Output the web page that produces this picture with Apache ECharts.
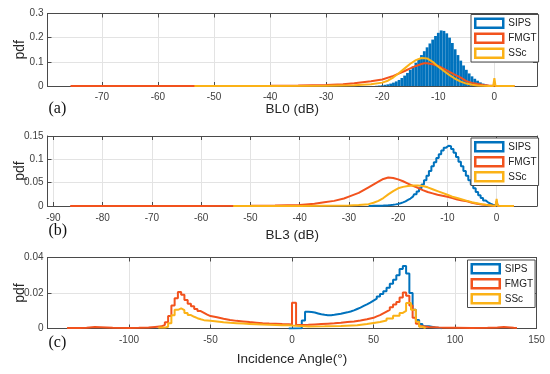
<!DOCTYPE html>
<html><head><meta charset="utf-8">
<script src="https://cdn.jsdelivr.net/npm/echarts@6/dist/echarts.min.js"></script>
<style>html,body{margin:0;padding:0;background:#fff}#c{width:550px;height:374px}</style>
</head><body><div id="c"></div>
<script>
// ---------- names / ticks ----------
const seriesNames = ['SIPS', 'FMGT', 'SSc'];
const panelLabels = ['(a)', '(b)', '(c)'];
const xNames = ['BL0 (dB)', 'BL3 (dB)', 'Incidence Angle(°)'];
const ticksA = [-70, -60, -50, -40, -30, -20, -10, 0];
const ticksB = [-90, -80, -70, -60, -50, -40, -30, -20, -10, 0];
const ticksC = [-100, -50, 0, 50, 100, 150];

// ---------- panel (a): BL0 ----------
const sipsAX = [-21, -20.5, -20, -19.5, -19, -18.5, -18, -17.5, -17, -16.5, -16, -15.5, -15, -14.5, -14, -13.5, -13, -12.5, -12, -11.5, -11, -10.5, -10, -9.5, -9, -8.5, -8, -7.5, -7, -6.5, -6, -5.5, -5, -4.5, -4, -3.5, -3, -2.5, -2, -1.5, -1, -0.5, 0];
const sipsAY = [0.001, 0.002, 0.003, 0.005, 0.007, 0.010, 0.014, 0.019, 0.025, 0.033, 0.043, 0.054, 0.067, 0.081, 0.096, 0.112, 0.128, 0.144, 0.160, 0.176, 0.192, 0.207, 0.220, 0.230, 0.228, 0.218, 0.200, 0.178, 0.152, 0.128, 0.105, 0.085, 0.067, 0.052, 0.040, 0.030, 0.022, 0.015, 0.010, 0.006, 0.003, 0.002, 0.012];
const fmgtAX = [-75.6, -53, -40, -35, -30, -27, -25, -22, -20, -18, -16, -15, -14, -13, -12.5, -12, -11, -10, -9, -8, -7, -6, -5, -4, -3, -2, -1, 0, 1, 2, 3.6];
const fmgtAY = [0, 0.0003, 0.001, 0.002, 0.004, 0.007, 0.011, 0.020, 0.027, 0.042, 0.062, 0.073, 0.083, 0.091, 0.094, 0.094, 0.090, 0.083, 0.071, 0.058, 0.046, 0.035, 0.020, 0.013, 0.008, 0.004, 0.002, 0.001, 0.0005, 0.0002, 0];
const sscAX = [-53.5, -40, -30, -25, -22, -20, -19, -18, -17, -16, -15, -14, -13, -12, -11, -10, -9, -8, -7, -6, -5, -4, -3, -2, -1, -0.2, 0, 0.2, 1, 2, 3.6];
const sscAY = [0, 0.0003, 0.001, 0.003, 0.007, 0.014, 0.022, 0.036, 0.054, 0.073, 0.092, 0.107, 0.116, 0.114, 0.100, 0.080, 0.062, 0.045, 0.030, 0.018, 0.010, 0.005, 0.002, 0.001, 0.0005, 0.0005, 0.032, 0.0005, 0.0002, 0.0001, 0];

// ---------- panel (b): BL3 ----------
const sipsBX = [-26, -25.5, -25, -24.5, -24, -23.5, -23, -22.5, -22, -21.5, -21, -20.5, -20, -19.5, -19, -18.5, -18, -17.5, -17, -16.5, -16, -15.5, -15, -14.5, -14, -13.5, -13, -12.5, -12, -11.5, -11, -10.5, -10, -9.5, -9, -8.5, -8, -7.5, -7, -6.5, -6, -5.5, -5, -4.5, -4, -3.5, -3, -2.5, -2, -1.5, -1, -0.5, 0, 0.5];
const sipsBY = [0, 0.0002, 0.0003, 0.0004, 0.0005, 0.0007, 0.0009, 0.0012, 0.0015, 0.002, 0.0027, 0.0035, 0.0045, 0.006, 0.0078, 0.010, 0.013, 0.016, 0.020, 0.025, 0.031, 0.038, 0.046, 0.055, 0.065, 0.075, 0.085, 0.094, 0.103, 0.111, 0.119, 0.125, 0.129, 0.128, 0.122, 0.114, 0.105, 0.095, 0.085, 0.075, 0.065, 0.055, 0.046, 0.038, 0.030, 0.023, 0.017, 0.012, 0.008, 0.005, 0.003, 0.0015, 0.001, 0];
const fmgtBX = [-86.6, -60, -50, -45, -40, -37, -35, -33, -31, -30, -28, -26, -24, -23, -22, -21, -20, -19, -18, -17, -16, -15, -14, -13, -12, -11, -10, -9, -8, -7, -6, -5, -4, -3, -2, -1, -0.2, 0, 0.2, 1, 2, 3.5];
const fmgtBY = [0, 0.0002, 0.0005, 0.001, 0.002, 0.005, 0.008, 0.011, 0.016, 0.020, 0.028, 0.040, 0.052, 0.058, 0.061, 0.060, 0.057, 0.053, 0.048, 0.043, 0.039, 0.034, 0.030, 0.027, 0.024, 0.022, 0.020, 0.017, 0.014, 0.012, 0.010, 0.007, 0.005, 0.003, 0.002, 0.001, 0.0008, 0.010, 0.0005, 0.0002, 0.0001, 0];
const sscBX = [-53.5, -40, -35, -30, -28, -26, -25, -24, -23, -22, -21, -20, -19, -18, -17, -16, -15, -14, -13, -12, -11, -10, -9, -8, -7, -6, -5, -4, -3, -2, -1, -0.2, 0, 0.2, 1, 3.5];
const sscBY = [0, 0.0002, 0.0005, 0.001, 0.002, 0.004, 0.007, 0.011, 0.017, 0.025, 0.032, 0.038, 0.041, 0.043, 0.044, 0.044, 0.043, 0.040, 0.036, 0.032, 0.028, 0.024, 0.020, 0.017, 0.014, 0.011, 0.008, 0.006, 0.004, 0.002, 0.001, 0.0008, 0.015, 0.0005, 0.0002, 0];

// ---------- panel (c): incidence angle (bin start, value) ----------
const sipsCX = [-2, 0, 6, 8, 10, 12, 14, 16, 18, 20, 22, 24, 26, 28, 30, 32, 34, 36, 38, 40, 42, 44, 46, 48, 50, 52, 54, 56, 58, 60, 62, 64, 66, 68, 70, 72, 74, 76, 78, 80, 84, 88, 92];
const sipsCY = [0, 0.0002, 0.0045, 0.0094, 0.0093, 0.009, 0.0085, 0.008, 0.0077, 0.0075, 0.0075, 0.0077, 0.008, 0.0083, 0.0087, 0.0091, 0.0096, 0.0102, 0.011, 0.0118, 0.0127, 0.0136, 0.0146, 0.0157, 0.0168, 0.018, 0.0195, 0.021, 0.023, 0.0252, 0.0275, 0.030, 0.0335, 0.0352, 0.031, 0.020, 0.0105, 0.0048, 0.0025, 0.0013, 0.0006, 0.0002, 0];
const fmgtCX = [-138, -130, -126, -121, -110, -100, -94, -88, -84, -80, -78, -76, -74, -72, -70, -68, -66, -64, -62, -60, -58, -56, -54, -52, -50, -46, -42, -38, -34, -30, -26, -22, -18, -14, -10, -6, -2, 0, 2.5, 6, 10, 14, 18, 22, 26, 30, 34, 38, 42, 46, 50, 52, 54, 56, 58, 60, 62, 64, 66, 68, 70, 72, 74, 76, 78, 80, 84, 90, 100, 110, 120, 126, 130, 136, 138];
const fmgtCY = [0.0003, 0.0004, 0.0009, 0.0004, 0.0003, 0.0004, 0.0006, 0.0009, 0.0012, 0.002, 0.0035, 0.007, 0.013, 0.017, 0.0205, 0.019, 0.016, 0.014, 0.0125, 0.011, 0.0098, 0.0088, 0.0078, 0.007, 0.0063, 0.0055, 0.0048, 0.0043, 0.004, 0.0036, 0.0033, 0.003, 0.0028, 0.0027, 0.0025, 0.0024, 0.0023, 0.0145, 0.002, 0.0021, 0.0023, 0.0025, 0.0027, 0.0029, 0.0032, 0.0036, 0.004, 0.0045, 0.0052, 0.006, 0.0068, 0.0075, 0.0085, 0.0095, 0.0105, 0.012, 0.0135, 0.015, 0.0175, 0.0203, 0.0185, 0.013, 0.006, 0.0027, 0.0013, 0.0008, 0.0005, 0.0004, 0.0003, 0.0004, 0.0005, 0.0008, 0.0004, 0.0003, 0];
const sscCX = [-82, -78, -76, -74, -72, -70, -68, -66, -64, -62, -60, -58, -56, -54, -50, -46, -42, -38, -34, -30, -26, -22, -18, -14, -10, -6, -2, 0, 2.5, 10, 20, 30, 40, 46, 50, 54, 58, 62, 66, 68, 70, 73, 76, 78, 80, 82];
const sscCY = [0.0005, 0.001, 0.003, 0.0075, 0.0105, 0.0113, 0.0103, 0.0088, 0.0076, 0.0066, 0.0058, 0.0052, 0.0047, 0.0043, 0.0039, 0.0035, 0.0032, 0.003, 0.0028, 0.0026, 0.0024, 0.0022, 0.0021, 0.002, 0.0019, 0.0018, 0.0017, 0.0016, 0.0011, 0.0012, 0.0014, 0.0018, 0.0025, 0.0031, 0.0037, 0.0045, 0.0057, 0.0072, 0.0088, 0.0099, 0.0143, 0.0105, 0.0038, 0.001, 0.0003, 0];

// ---------- styling ----------
const C = { SIPS: '#0072BD', FMGT: '#F2521D', SSc: '#FBB217' };
const AX = '#4a4a4a';
const FONT = '"Liberation Sans", Arial, sans-serif';
const grids = [
  { left: 47.5, right: 13, top: 13.5, height: 72.5 },
  { left: 47.5, right: 13, top: 136, height: 70 },
  { left: 47.5, right: 13.5, top: 257.5, height: 71 }
];
const xRanges = [[-79.7, 7.6], [-91.2, 8.2], [-150, 150]];
const xTicks = [ticksA, ticksB, ticksC];
const yMax = [0.3, 0.15, 0.04];
const yStep = [0.1, 0.05, 0.02];
const xNameGap = [16, 22, 24];
const xLabelMargin = [6, 7, 6.5];
const legendTops = [14.5, 138, 260];
const legendLefts = [471, 471, 467.5];

const pairs = (xs, ys) => xs.map((x, i) => [x, ys[i]]);

const xAxis = [], yAxis = [], series = [], legend = [], graphic = [];
grids.forEach((g, i) => {
  const common = { gridIndex: i, type: 'value', min: xRanges[i][0], max: xRanges[i][1] };
  xAxis.push(Object.assign({}, common, {
    position: 'bottom',
    name: xNames[i], nameLocation: 'middle', nameGap: xNameGap[i], nameMoveOverlap: false,
    nameTextStyle: { fontSize: 13.5, color: '#262626', fontFamily: FONT },
    axisLine: { show: true, onZero: false, lineStyle: { color: AX, width: 1 } },
    axisTick: { show: true, inside: true, length: 4, lineStyle: { color: AX }, customValues: xTicks[i] },
    axisLabel: { fontSize: 10, color: '#404040', fontFamily: FONT, margin: xLabelMargin[i], customValues: xTicks[i] },
    splitLine: { show: true, lineStyle: { color: '#e3e3e3', width: 1 } }
  }));
  xAxis.push(Object.assign({}, common, {
    position: 'top',
    axisLine: { show: true, onZero: false, lineStyle: { color: AX, width: 1 } },
    axisTick: { show: true, inside: true, length: 4, lineStyle: { color: AX }, customValues: xTicks[i] },
    axisLabel: { show: false },
    splitLine: { show: false }
  }));
  const yc = { gridIndex: i, type: 'value', min: 0, max: yMax[i], interval: yStep[i] };
  yAxis.push(Object.assign({}, yc, {
    position: 'left',
    name: 'pdf', nameLocation: 'middle', nameGap: 20, nameRotate: 90, nameMoveOverlap: false,
    nameTextStyle: { fontSize: 14, color: '#262626', fontFamily: FONT },
    axisLine: { show: true, onZero: false, lineStyle: { color: AX, width: 1 } },
    axisTick: { show: true, inside: true, length: 4, lineStyle: { color: AX } },
    axisLabel: { fontSize: 10, color: '#404040', fontFamily: FONT, margin: 4 },
    splitLine: { show: true, lineStyle: { color: '#e3e3e3', width: 1 } }
  }));
  yAxis.push(Object.assign({}, yc, {
    position: 'right',
    axisLine: { show: true, onZero: false, lineStyle: { color: AX, width: 1 } },
    axisTick: { show: true, inside: true, length: 4, lineStyle: { color: AX } },
    axisLabel: { show: false },
    splitLine: { show: false }
  }));
  legend.push({
    left: legendLefts[i], top: legendTops[i], orient: 'vertical',
    icon: 'rect', itemWidth: 28, itemHeight: 9, itemGap: 3.5,
    padding: [3, 2, 3, 3],
    borderColor: AX, borderWidth: 1, backgroundColor: '#fff',
    selectedMode: false,
    textStyle: { fontSize: 10, color: '#222', fontFamily: FONT, lineHeight: 10 },
    data: seriesNames.map(n => ({ name: n, itemStyle: { color: '#fff', borderColor: C[n], borderWidth: 2.5 } }))
  });
  graphic.push({
    type: 'text', silent: true,
    style: { x: 48.5, y: [108.5, 231, 343][i], text: panelLabels[i], verticalAlign: 'middle',
      font: '16px "Liberation Serif", "DejaVu Serif", serif', fill: '#111' }
  });
});

const lineOpts = (name, data, xi, yi, extra) => Object.assign({
  type: 'line', name, data, xAxisIndex: xi, yAxisIndex: yi,
  showSymbol: false, symbol: 'none', animation: false, silent: true,
  lineStyle: { color: C[name], width: 2 }, itemStyle: { color: C[name] }
}, extra || {});

// panel (a)
series.push({
  type: 'bar', name: 'SIPS', data: pairs(sipsAX, sipsAY), xAxisIndex: 0, yAxisIndex: 0,
  barWidth: 2.8, itemStyle: { color: C.SIPS }, animation: false, silent: true
});
series.push(lineOpts('FMGT', pairs(fmgtAX, fmgtAY), 0, 0));
series.push(lineOpts('SSc', pairs(sscAX, sscAY), 0, 0));
// panel (b)
series.push(lineOpts('SIPS', pairs(sipsBX, sipsBY), 2, 2, { step: 'middle' }));
series.push(lineOpts('FMGT', pairs(fmgtBX, fmgtBY), 2, 2));
series.push(lineOpts('SSc', pairs(sscBX, sscBY), 2, 2));
// panel (c)
series.push(lineOpts('SIPS', pairs(sipsCX, sipsCY), 4, 4, { step: 'end' }));
series.push(lineOpts('FMGT', pairs(fmgtCX, fmgtCY), 4, 4, { step: 'end' }));
series.push(lineOpts('SSc', pairs(sscCX, sscCY), 4, 4, { step: 'end' }));

const chart = echarts.init(document.getElementById('c'), null, { renderer: 'canvas' });
chart.setOption({
  backgroundColor: '#fff',
  animation: false,
  grid: grids,
  xAxis, yAxis, series, legend, graphic
});
</script></body></html>
